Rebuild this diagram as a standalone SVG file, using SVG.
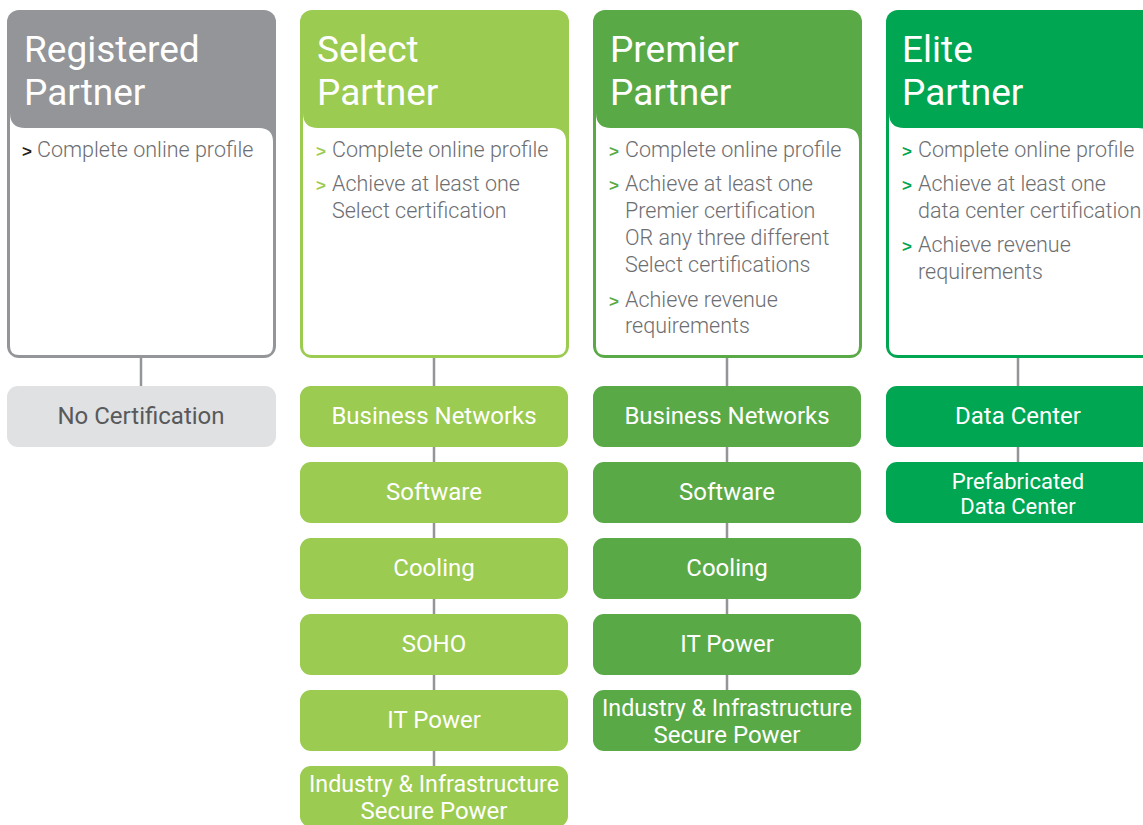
<svg xmlns="http://www.w3.org/2000/svg" width="1143" height="825" viewBox="0 0 1143 825">
<style>
.title{font-family:Roboto,"Liberation Sans",sans-serif;font-weight:400;font-size:37px;fill:#fff}
.body{font-family:Roboto,"Liberation Sans",sans-serif;font-weight:300;font-size:21.5px;fill:#6d6e71}
.bul{font-family:"Liberation Sans",Arial,sans-serif;font-weight:bold;font-size:17px}
.lbl{font-family:Roboto,"Liberation Sans",sans-serif;font-weight:400;font-size:24px;fill:#fff;text-anchor:middle}
.sm{font-size:22px}
.panel{fill:#fff}
.conn{stroke:#939598;stroke-width:2.5;fill:none}
.g0{fill:#939598}.g1{fill:#9bcb50}.g2{fill:#5aa947}.g3{fill:#00a651}
</style>
<defs>
<path id="pnl" d="M3,103 Q3,118 18,118 L252,118 Q266,118 266,132 L266,336 Q266,345 257,345 L12,345 Q3,345 3,336 Z"/>
</defs>
<g id="connectors">
<line class="conn" x1="141" y1="356" x2="141" y2="388"/>
<line class="conn" x1="434" y1="356" x2="434" y2="790"/>
<line class="conn" x1="727" y1="356" x2="727" y2="700"/>
<line class="conn" x1="1018" y1="356" x2="1018" y2="470"/>
</g>
<g id="card-registered" transform="translate(7,10)">
<rect class="g0" x="0" y="0" width="269" height="348" rx="12"/>
<use href="#pnl" class="panel"/>
<text class="title" x="17" y="52">Registered</text>
<text class="title" x="17" y="95">Partner</text>
<text class="bul" x="15" y="147" fill="#231f20">&gt;</text>
<text class="body" x="30" y="147">Complete online profile</text>
</g>
<g id="card-select" transform="translate(300,10)">
<rect class="g1" x="0" y="0" width="269" height="348" rx="12"/>
<use href="#pnl" class="panel"/>
<text class="title" x="17" y="52">Select</text>
<text class="title" x="17" y="95">Partner</text>
<g class="bul" fill="#9bcb50"><text x="16" y="147">&gt;</text><text x="16" y="181">&gt;</text></g>
<text class="body" x="32" y="147">Complete online profile</text>
<text class="body" x="32" y="181">Achieve at least one</text>
<text class="body" x="32" y="208">Select certification</text>
</g>
<g id="card-premier" transform="translate(593,10)">
<rect class="g2" x="0" y="0" width="269" height="348" rx="12"/>
<use href="#pnl" class="panel"/>
<text class="title" x="17" y="52">Premier</text>
<text class="title" x="17" y="95">Partner</text>
<g class="bul" fill="#5aa947"><text x="16" y="147">&gt;</text><text x="16" y="181">&gt;</text><text x="16" y="297">&gt;</text></g>
<text class="body" x="32" y="147">Complete online profile</text>
<text class="body" x="32" y="181">Achieve at least one</text>
<text class="body" x="32" y="208">Premier certification</text>
<text class="body" x="32" y="235">OR any three different</text>
<text class="body" x="32" y="262">Select certifications</text>
<text class="body" x="32" y="297">Achieve revenue</text>
<text class="body" x="32" y="323">requirements</text>
</g>
<g id="card-elite" transform="translate(886,10)">
<rect class="g3" x="0" y="0" width="269" height="348" rx="12"/>
<use href="#pnl" class="panel"/>
<text class="title" x="16" y="52">Elite</text>
<text class="title" x="16" y="95">Partner</text>
<g class="bul" fill="#00a651"><text x="16" y="147">&gt;</text><text x="16" y="181">&gt;</text><text x="16" y="242">&gt;</text></g>
<text class="body" x="32" y="147">Complete online profile</text>
<text class="body" x="32" y="181">Achieve at least one</text>
<text class="body" x="32" y="208">data center certification</text>
<text class="body" x="32" y="242">Achieve revenue</text>
<text class="body" x="32" y="269">requirements</text>
</g>
<g id="reg-none"><rect x="7" y="386" width="269" height="61" rx="11" fill="#e0e1e3"/><text class="lbl" x="141" y="424" style="fill:#58595b">No Certification</text></g>
<g id="sel-bn"><rect class="g1" x="300" y="386" width="268" height="61" rx="11"/><text class="lbl" x="434" y="424">Business Networks</text></g>
<g id="sel-sw"><rect class="g1" x="300" y="462" width="268" height="61" rx="11"/><text class="lbl" x="434" y="500">Software</text></g>
<g id="sel-cool"><rect class="g1" x="300" y="538" width="268" height="61" rx="11"/><text class="lbl" x="434" y="576">Cooling</text></g>
<g id="sel-soho"><rect class="g1" x="300" y="614" width="268" height="61" rx="11"/><text class="lbl" x="434" y="652">SOHO</text></g>
<g id="sel-itp"><rect class="g1" x="300" y="690" width="268" height="61" rx="11"/><text class="lbl" x="434" y="728">IT Power</text></g>
<g id="sel-iisp"><rect class="g1" x="300" y="766" width="268" height="61" rx="11"/><text class="lbl" x="434" y="792" textLength="250" lengthAdjust="spacingAndGlyphs">Industry &amp; Infrastructure</text><text class="lbl" x="434" y="819">Secure Power</text></g>
<g id="pre-bn"><rect class="g2" x="593" y="386" width="268" height="61" rx="11"/><text class="lbl" x="727" y="424">Business Networks</text></g>
<g id="pre-sw"><rect class="g2" x="593" y="462" width="268" height="61" rx="11"/><text class="lbl" x="727" y="500">Software</text></g>
<g id="pre-cool"><rect class="g2" x="593" y="538" width="268" height="61" rx="11"/><text class="lbl" x="727" y="576">Cooling</text></g>
<g id="pre-itp"><rect class="g2" x="593" y="614" width="268" height="61" rx="11"/><text class="lbl" x="727" y="652">IT Power</text></g>
<g id="pre-iisp"><rect class="g2" x="593" y="690" width="268" height="61" rx="11"/><text class="lbl" x="727" y="716" textLength="250" lengthAdjust="spacingAndGlyphs">Industry &amp; Infrastructure</text><text class="lbl" x="727" y="743">Secure Power</text></g>
<g id="eli-dc"><rect class="g3" x="886" y="386" width="269" height="61" rx="11"/><text class="lbl" x="1018" y="424">Data Center</text></g>
<g id="eli-pdc"><rect class="g3" x="886" y="462" width="269" height="61" rx="11"/><text class="lbl sm" x="1018" y="489">Prefabricated</text><text class="lbl sm" x="1018" y="514">Data Center</text></g>
</svg>
